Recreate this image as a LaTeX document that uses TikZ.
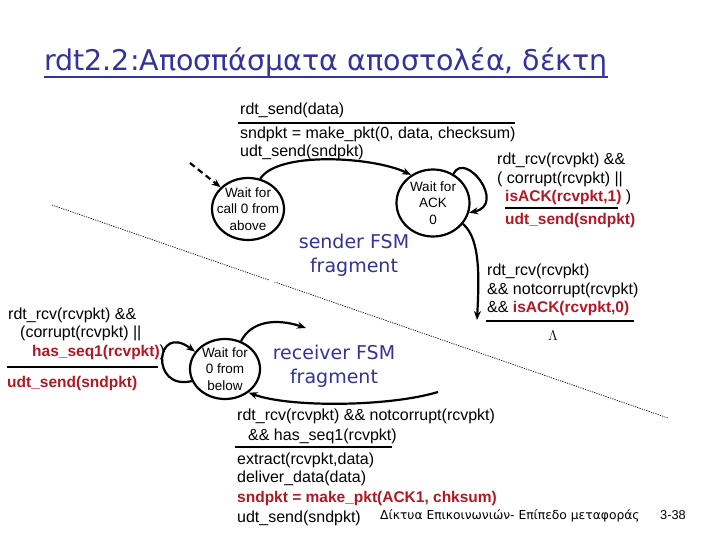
\documentclass[tikz,border=0pt]{standalone}
\usepackage{fontspec}
\setmainfont{Liberation Sans}
\newfontfamily\comicfont{DejaVu Sans}
\usetikzlibrary{shapes.geometric,arrows.meta}
\definecolor{slideblue}{RGB}{51,51,153}
\definecolor{condred}{RGB}{178,24,36}
\newcommand{\cond}[1]{{\fontsize{15.5}{19}\selectfont\bfseries\color{condred}#1}}

\begin{document}
\begin{tikzpicture}[x=1pt,y=1pt,
    state/.style={ellipse,draw,line width=2.2pt,inner sep=-12pt,align=center,
      font=\fontsize{13.5}{16.5}\selectfont},
    lbl/.style={anchor=base west,inner sep=0pt,font=\fontsize{16}{19}\selectfont},
    fsm/.style={align=center,text=slideblue,font=\comicfont\fontsize{19}{24}\selectfont},
    bar/.style={line width=2.2pt},
    edge/.style={line width=2.2pt,-{Stealth[length=9pt,width=7pt]}}]

            \useasboundingbox (0,0) rectangle (720,-540);

            \node[anchor=base west,inner sep=0pt,text=slideblue,
              font=\comicfont\fontsize{28.5}{32}\selectfont] (title) at (44,-71)
              {rdt2.2:Αποσπάσματα αποστολέα, δέκτη};
            \draw[slideblue,line width=1.8pt] ([yshift=-6pt]title.base west) -- ([yshift=-6pt]title.base east);

            \draw[line width=0.7pt,dash pattern=on 1.2pt off 1.2pt] (52,-205) -- (668,-418);
            \node[fsm,fill=white,inner xsep=30pt,inner ysep=6pt] (sndfsm) at (354,-255) {sender FSM\\fragment};
            \node[fsm] (rcvfsm) at (334,-366) {receiver FSM\\fragment};

            \node[state,minimum width=72pt,minimum height=62pt] (call0) at (248,-209) {Wait for\\call 0 from\\above};
            \node[state,minimum width=73pt,minimum height=67pt] (ack0) at (433,-203) {Wait for\\ACK\\0};
            \node[state,minimum width=70pt,minimum height=60pt] (below0) at (225,-369) {Wait for\\0 from\\below};

            % sender
            \node[lbl] (snd1) at (240,-115) {rdt\_send(data)};
            \draw[bar] (238,-123) -- (515,-123);
            \node[lbl] (snd2) at (240,-139) {sndpkt = make\_pkt(0, data, checksum)};
            \node[lbl] (snd3) at (240,-157) {udt\_send(sndpkt)};

            \node[lbl] (rsnd1) at (497,-165) {rdt\_rcv(rcvpkt) \&\&};
            \node[lbl] (rsnd2) at (497,-184) {( corrupt(rcvpkt) ||};
            \node[lbl] (rsnd3) at (505,-202) {\cond{isACK(rcvpkt,1)} )};
            \draw[bar] (505,-208) -- (618,-208);
            \node[lbl] (rsnd4) at (505,-225) {\cond{udt\_send(sndpkt)}};

            \node[lbl] (ok1) at (487,-275) {rdt\_rcv(rcvpkt)};
            \node[lbl] (ok2) at (487,-294) {\&\& notcorrupt(rcvpkt)};
            \node[lbl] (ok3) at (487,-312) {\&\& \cond{isACK(rcvpkt,0)}};
            \draw[bar] (486,-321) -- (634,-321);
            \node[anchor=base,inner sep=0pt,font=\fontsize{15}{18}\selectfont] (lam) at (553,-340) {$\Lambda$};

            % receiver
            \node[lbl] (bad1) at (8,-319) {rdt\_rcv(rcvpkt) \&\&};
            \node[lbl] (bad2) at (20,-337) {(corrupt(rcvpkt) ||};
            \node[lbl] (bad3) at (32,-356) {\cond{has\_seq1(rcvpkt)})};
            \draw[bar] (7,-367) -- (158,-367);
            \node[lbl] (bad4) at (7,-387) {\cond{udt\_send(sndpkt)}};

            \node[lbl] (good1) at (237,-420) {rdt\_rcv(rcvpkt) \&\& notcorrupt(rcvpkt)};
            \node[lbl] (good2) at (248,-440) {\&\& has\_seq1(rcvpkt)};
            \draw[bar] (235,-447) -- (392,-447);
            \node[lbl] (good3) at (237,-464) {extract(rcvpkt,data)};
            \node[lbl] (good4) at (237,-482) {deliver\_data(data)};
            \node[lbl] (good5) at (237,-502) {\cond{sndpkt = make\_pkt(ACK1, chksum)}};
            \node[lbl] (good6) at (237,-522) {udt\_send(sndpkt)};

            \node[anchor=base west,inner sep=0pt,font=\comicfont\fontsize{12.3}{14}\selectfont] (foot) at (380,-519)
              {Δίκτυα Επικοινωνιών- Επίπεδο μεταφοράς};
            \node[anchor=base west,inner sep=0pt,font=\fontsize{12.8}{14}\selectfont] (page) at (660,-519) {3-38};

            \coordinate (init) at (190,-163);
            \coordinate (ackout) at (477,-320);
            \coordinate (rcvout) at (306,-328);
            \coordinate (rcvin) at (438,-392);

            \draw[edge,dash pattern=on 6pt off 4pt] (init) -- (call0);
            \draw[edge] (call0.68) .. controls +(18,28) and +(-37,18) .. (ack0.128);
            \draw[edge] (ack0.55) .. controls +(12,24) and +(38,8) .. (ack0.-15);
            \draw[edge] (ack0.-35) .. controls +(18,-15) and +(2,40) .. (ackout);
            \draw[edge] (below0.200) .. controls +(-42,-10) and +(-40,30) .. (below0.150);
            \draw[edge] (below0.60) .. controls +(10,20) and +(-30,10) .. (rcvout);
            \draw[edge] (rcvin) .. controls +(-50,-15) and +(40,-15) .. (below0.-45);
        \end{tikzpicture}
\end{document}
